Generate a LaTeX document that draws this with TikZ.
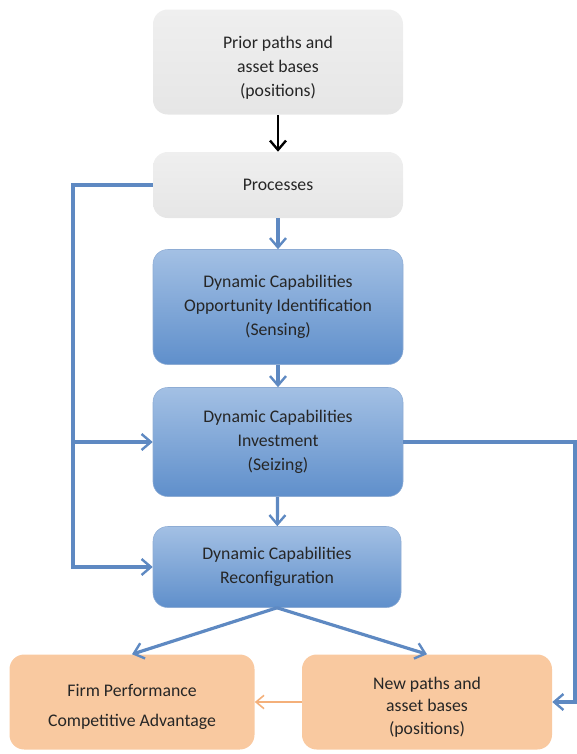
\documentclass[tikz,border=0pt]{standalone}
\usepackage{fontspec}
\setmainfont{Carlito}
\usetikzlibrary{arrows.meta}
\definecolor{boxgray}{HTML}{E6E6E6}
\definecolor{boxgraytop}{HTML}{EFEFEF}
\definecolor{bluetop}{HTML}{A3C0E4}
\definecolor{bluebot}{HTML}{5F8FCB}
\definecolor{blueline}{HTML}{5E89C2}
\definecolor{orangebox}{HTML}{F9C9A0}
\definecolor{orangeline}{HTML}{F4B07A}
\tikzset{
  stage/.style={rectangle, rounded corners=11pt, inner sep=0pt, align=center,
    minimum width=187.5pt, font=\fontsize{13.3}{18}\selectfont, text=black!85},
  graybox/.style={stage, top color=boxgraytop, bottom color=boxgray},
  bluebox/.style={stage, draw=blueline!70, top color=bluetop, bottom color=bluebot},
  orangebox/.style={stage, fill=orangebox},
  boxtext/.style={align=center, text=black!85, font=\fontsize{13.3}{#1}\selectfont},
  flow/.style={draw=blueline, line width=2.4pt, -{Straight Barb[length=7pt,width=12pt,line width=1.8pt]}},
}
\begin{document}
\begin{tikzpicture}[x=0.75pt,y=-0.75pt]
    \useasboundingbox (0,0) rectangle (577,754);

    \node[graybox, minimum height=78.75pt] (prior) at (278,62) {};
    \node[boxtext=18] (priortext) at (278,68) {Prior paths and\\asset bases\\(positions)};
    \node[graybox, minimum height=49.5pt] (proc) at (278,185) {Processes};
    \node[bluebox, minimum height=86.25pt] (sense) at (278,307) {Dynamic Capabilities\\Opportunity Identification\\(Sensing)};
    \node[bluebox, minimum height=81.75pt] (seize) at (278,442) {Dynamic Capabilities\\Investment\\(Seizing)};
    \node[bluebox, minimum height=60.75pt, minimum width=186pt] (reconf) at (277,567) {Dynamic Capabilities\\Reconfiguration};
    \node[orangebox, minimum height=71.25pt, minimum width=183.75pt] (perf) at (132,702) {};
    \node[boxtext=23] (perftext) at (132,707) {Firm Performance\\Competitive Advantage};
    \node[orangebox, minimum height=71.25pt] (newpos) at (427,702) {};
    \node[boxtext=17] (newpostext) at (427,707) {New paths and\\asset bases\\(positions)};

    \coordinate (lft) at (73,185);
    \coordinate (rgt) at (575,442);

    \draw[line width=1.8pt, -{Straight Barb[length=7pt,width=12pt,line width=1.8pt]}] (prior) -- (proc);
    \draw[flow] (proc) -- (sense);
    \draw[flow] (sense) -- (seize);
    \draw[flow] (seize) -- (reconf);
    \draw[flow] (proc.west) -- (lft) |- (reconf.west);
    \draw[flow] (lft |- seize.west) -- (seize.west);
    \draw[flow] (seize.east) -- (rgt) |- (newpos.east);
    \draw[flow] (reconf.south) -- (perf.north);
    \draw[flow] (reconf.south) -- (newpos.north);
    \draw[draw=orangeline, line width=1.2pt, -{Straight Barb[length=6pt,width=10pt,line width=1.2pt]}] (newpos) -- (perf);
\end{tikzpicture}
\end{document}
